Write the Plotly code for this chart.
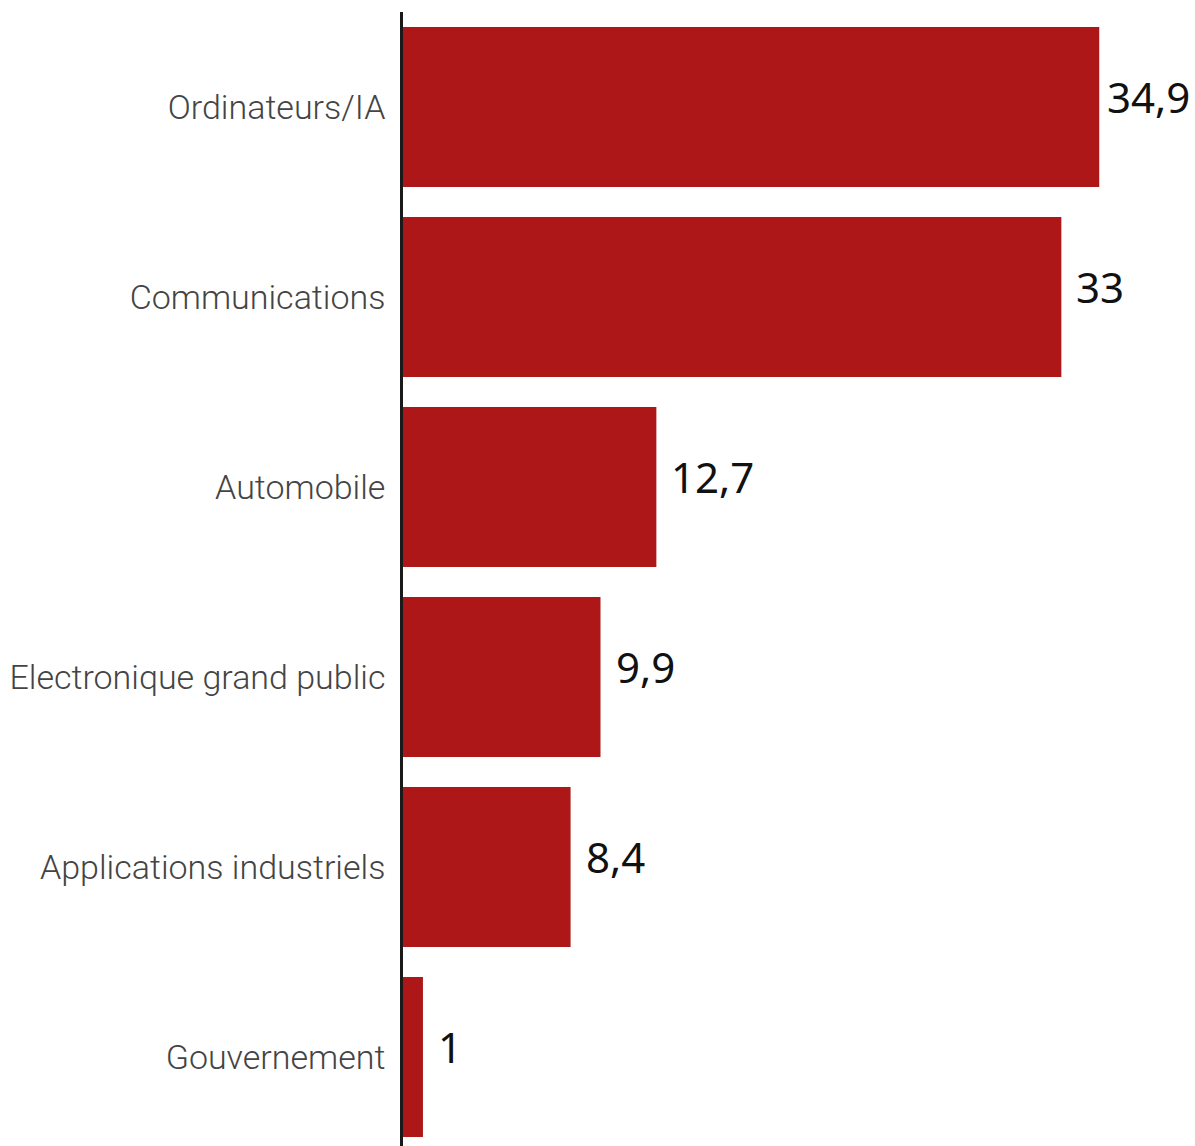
import plotly.graph_objects as go

categories = ["Ordinateurs/IA", "Communications", "Automobile",
              "Electronique grand public", "Applications industriels", "Gouvernement"]
values = [34.9, 33, 12.7, 9.9, 8.4, 1]
labels = [f"{v:g}".replace(".", ",") for v in values]

fig = go.Figure(go.Bar(
    x=values, y=categories, orientation="h",
    marker=dict(color="#AD1717", line=dict(width=0)),
    hoverinfo="x+y",
))
vmax = max(values)
for v, c, t in zip(values, categories, labels):
    fig.add_annotation(x=v, y=c, text=t, showarrow=False, xanchor="left", yanchor="middle",
                       xshift=6 if v == vmax else 13, yshift=11,
                       font=dict(family="Noto Sans", size=42, color="#111111"))
fig.update_layout(
    width=1195, height=1146,
    margin=dict(l=403, r=0, t=12, b=0, autoexpand=False),
    paper_bgcolor="white", plot_bgcolor="white",
    bargap=0.158, showlegend=False,
    xaxis=dict(range=[0, 39.7], visible=False, fixedrange=True),
    yaxis=dict(range=[5.468, -0.5], automargin=False, showline=True, linecolor="#1a1a1a",
               linewidth=2.5, showgrid=False, zeroline=False, ticks="", ticklabelstandoff=8,
               tickfont=dict(family="Roboto", size=34, color="#444444", weight=300)),
)
fig.write_html("out.html", config={"displayModeBar": False},
               post_script="document.body.style.margin='0';document.body.style.overflow='hidden';")
